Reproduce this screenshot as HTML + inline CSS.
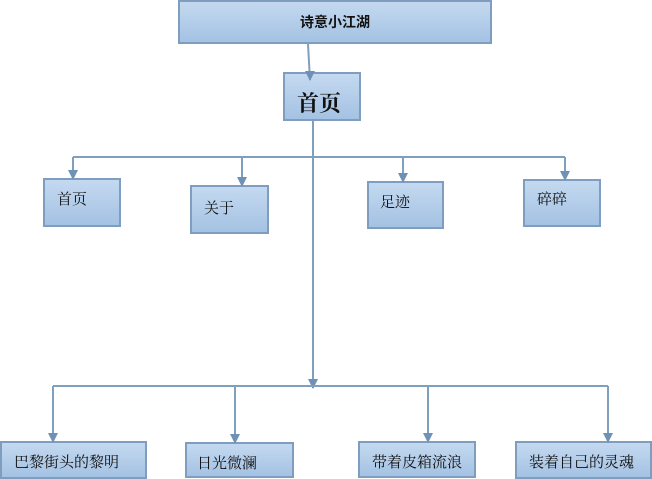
<!DOCTYPE html>
<html><head><meta charset="utf-8"><style>
body{margin:0;width:652px;height:479px;background:#fff;position:relative;overflow:hidden;font-family:"Noto Serif CJK SC","Liberation Serif",serif;}
.b{position:absolute;box-sizing:border-box;border:2px solid #7f9dbf;background:linear-gradient(#c4d9f0,#a4c2e3);color:#111;font-size:15px;}
svg{position:absolute;left:0;top:0;z-index:5}
</style></head><body>
<div class="b" style="left:178px;top:0;width:314px;height:44px;text-align:center;line-height:40px;font-weight:bold;font-size:14px;font-family:'Liberation Sans','Noto Sans CJK SC',sans-serif">诗意小江湖</div>
<div class="b" style="left:283px;top:72px;width:78px;height:49px;font-size:22px;padding:18px 0 0 12px;line-height:22px;font-weight:bold">首页</div>
<div class="b" style="left:43px;top:178px;width:78px;height:49px;padding:8px 0 0 12px">首页</div>
<div class="b" style="left:190px;top:185px;width:79px;height:49px;padding:10px 0 0 12px">关于</div>
<div class="b" style="left:367px;top:181px;width:77px;height:48px;padding:8px 0 0 11px">足迹</div>
<div class="b" style="left:523px;top:179px;width:78px;height:48px;padding:7px 0 0 12px">碎碎</div>
<div class="b" style="left:0;top:441px;width:147px;height:38px;padding:8px 0 0 12px">巴黎街头的黎明</div>
<div class="b" style="left:185px;top:442px;width:109px;height:36px;padding:8px 0 0 10px">日光微澜</div>
<div class="b" style="left:358px;top:441px;width:118px;height:37px;padding:8px 0 0 12px">带着皮箱流浪</div>
<div class="b" style="left:515px;top:441px;width:137px;height:38px;padding:8px 0 0 12px">装着自己的灵魂</div>
<svg width="652" height="479">
<defs><marker id="d" markerWidth="10" markerHeight="10" refX="5" refY="9" markerUnits="userSpaceOnUse"><path d="M0,0 L10,0 L5,10 z" fill="#6f91b6"/></marker></defs>
<g stroke="#7f9fbf" stroke-width="2" fill="none">
<line x1="308" y1="44" x2="310" y2="80" marker-end="url(#d)"/>
<line x1="313" y1="121" x2="313" y2="388" marker-end="url(#d)"/>
<line x1="73" y1="157" x2="565" y2="157"/>
<line x1="73" y1="157" x2="73" y2="179" marker-end="url(#d)"/>
<line x1="242" y1="157" x2="242" y2="186" marker-end="url(#d)"/>
<line x1="403" y1="157" x2="403" y2="182" marker-end="url(#d)"/>
<line x1="565" y1="157" x2="565" y2="180" marker-end="url(#d)"/>
<line x1="53" y1="386" x2="608" y2="386"/>
<line x1="53" y1="386" x2="53" y2="442" marker-end="url(#d)"/>
<line x1="235" y1="386" x2="235" y2="443" marker-end="url(#d)"/>
<line x1="428" y1="386" x2="428" y2="442" marker-end="url(#d)"/>
<line x1="608" y1="386" x2="608" y2="442" marker-end="url(#d)"/>
</g></svg>
</body></html>
